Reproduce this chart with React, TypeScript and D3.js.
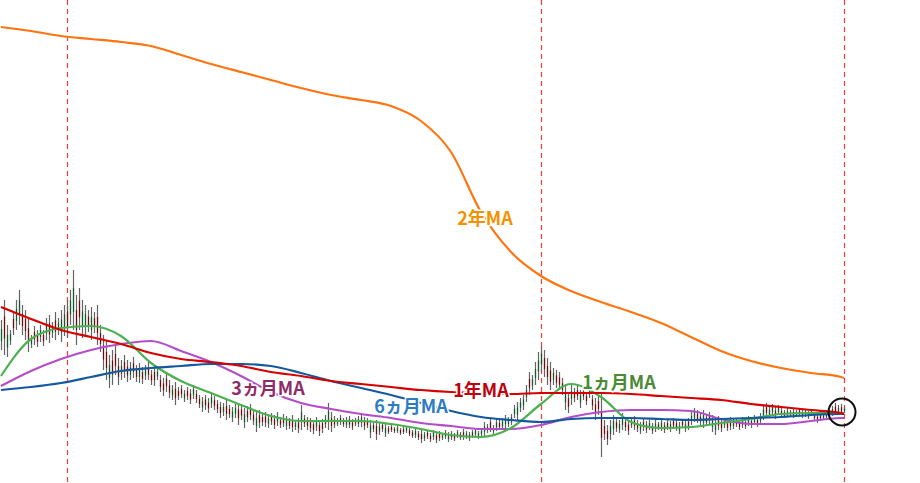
import React from "react";
import * as d3 from "d3";

// Bar data (price units), one bar per session
const high = [163,183,158,153,171,183,193,178,173,165,148,157,153,158,153,165,168,161,171,165,173,178,183,193,213,188,195,183,178,173,176,171,178,158,148,143,128,133,138,125,123,128,123,121,126,118,120,116,118,121,113,117,115,108,105,110,103,98,101,96,98,93,96,94,98,93,88,86,88,85,90,87,83,81,80,83,78,76,79,80,78,75,77,79,73,71,73,70,71,69,70,68,71,66,69,67,65,68,63,65,78,68,66,65,63,66,63,64,68,80,71,67,65,68,65,66,67,64,65,67,70,66,65,63,61,63,60,61,59,57,58,56,57,55,56,57,55,53,55,52,53,51,53,50,53,51,52,50,53,51,52,50,53,51,54,52,51,53,55,52,55,61,59,65,58,64,63,65,68,66,69,78,81,85,88,98,111,108,121,131,137,133,125,121,115,113,111,105,98,91,98,95,97,93,95,91,97,88,85,88,90,63,58,63,68,65,63,70,65,63,65,67,63,61,65,62,63,60,63,61,64,61,63,62,65,63,61,64,62,65,71,75,73,70,73,69,71,68,65,67,64,65,63,66,64,65,63,66,64,67,65,68,66,70,78,80,77,79,76,78,75,73,75,73,74,73,75,73,74,72,73,70,69,71,70,72,73,77,80,78,79,76];
const low = [133,128,126,138,148,153,158,148,143,131,135,138,136,141,137,143,140,145,143,148,141,147,145,158,153,138,153,145,148,151,143,150,138,131,113,103,95,98,108,98,103,105,101,103,105,101,100,99,103,103,98,97,103,91,87,91,85,83,78,83,85,81,83,79,84,80,75,71,73,70,75,73,70,65,67,63,65,61,65,58,63,55,61,63,58,51,55,57,56,55,58,54,57,55,56,53,54,51,53,50,53,56,53,51,49,52,47,50,55,53,51,55,57,58,56,55,55,53,57,56,56,53,55,45,51,43,48,51,46,49,51,50,50,48,49,50,47,45,45,43,40,42,44,41,43,40,42,43,44,41,43,42,45,43,43,44,42,45,46,44,46,47,50,51,49,52,53,53,55,56,58,65,63,71,73,81,88,93,98,103,111,106,98,93,98,95,93,88,73,70,78,81,83,75,83,78,85,73,63,68,26,43,38,43,48,51,50,53,52,48,55,53,51,49,52,50,53,49,51,53,52,50,53,51,54,52,49,55,51,53,58,61,60,58,55,57,59,51,48,53,51,55,52,53,54,56,53,55,54,57,55,58,56,59,63,66,65,67,64,68,65,65,66,67,65,66,67,65,66,64,67,63,60,62,63,64,65,67,68,69,68,70];
const direction =
  "uduuduuddd" + "uddudududu" + "uuduudduud" + "uddddduddd" + "udduddudud" +
  "dduddddudd" + "dudduddudd" + "udddudduud" + "dudddudddu" + "ddudduddud" +
  "uddddudduu" + "ddudduddud" + "udduddudud" + "ddudduddud" + "dudduddudu" +
  "dduddudduu" + "uuuduuduuu" + "uuuuuuduuu" + "udddudddud" + "uddudduddd" +
  "ddduuduudd" + "udduddudud" + "udduddudud" + "uuddudduud" + "dudduddudu" +
  "duduuduudu" + "ddudduddud" + "dddduuuudu" + "du";

// Moving averages sampled every 10 sessions
const maIdx = [0,10,20,30,40,50,60,70,80,90,100,110,120,130,140,150,160,170,180,190,200,210,220,230,240,250,260,270,280,281];
const ma2y = [456,452,447,444,441,437,428,419,411,403,395,388,383,377,362,331,271,231,207,192,181,171,160,146,132,122,115,110,106,105];
const ma1y = [176,164,153,146,139,130,124,121,117,111,107,102,99,96,93,91,90,89,90,90,90,89,87,85,83,79,76,73,70,69];
const ma6m = [93,96,100,106,112,115,117,119,119,117,110,102,95,88,80,72,66,63,61,64,65,65,64,63,64,65,66,68,69,69];
const ma3m = [97,112,124,133,139,142,132,121,107,91,80,74,69,65,60,57,54,54,58,66,71,73,73,72,64,59,59,62,65,65];
const ma1m = [107,144,155,157,147,120,102,90,78,67,62,62,62,59,54,48,46,55,79,99,86,61,55,56,60,64,69,70,70,70];

const markerIdx = [22, 180, 281];

const series = [
  { name: "2年MA", values: ma2y, color: "#ff7410", text: "#f39200", lx: 485, ly: 225 },
  { name: "3ヵ月MA", values: ma3m, color: "#b44ec8", text: "#8e2c68", lx: 268, ly: 395 },
  { name: "1ヵ月MA", values: ma1m, color: "#4cb050", text: "#4a8a34", lx: 619, ly: 389 },
  { name: "6ヵ月MA", values: ma6m, color: "#1458a0", text: "#2d7cc2", lx: 411, ly: 413 },
  { name: "1年MA", values: ma1y, color: "#d60000", text: "#c0000c", lx: 481, ly: 397 },
];

const W = 920;
const H = 483;

export default function App() {
  const N = high.length;
  const x = d3.scaleLinear().domain([0, N - 1]).range([1, 844]);
  const y = d3.scaleLinear().domain([0, 483]).range([H, 0]);
  const line = (vals: number[]) =>
    d3
      .line<number>()
      .x((_, i) => x(maIdx[i]))
      .y((d) => y(d))
      .curve(d3.curveMonotoneX)(vals) as string;

  return (
    <svg
      width={W}
      height={H}
      style={{ position: "absolute", left: 0, top: 0, background: "#fff" }}
    >
      {markerIdx.map((m) => (
        <line
          key={m}
          x1={Math.round(x(m)) + 0.5}
          x2={Math.round(x(m)) + 0.5}
          y1={0}
          y2={H}
          stroke="#f0402e"
          strokeWidth={1.2}
          strokeDasharray="5,4"
        />
      ))}
      <g>
        {high.map((h, i) => {
          const l = low[i];
          const xi = Math.round(x(i)) + 0.5;
          const bTop = h - (h - l) * 0.3;
          const bBot = l + (h - l) * 0.3;
          return (
            <g key={i}>
              <line x1={xi} x2={xi} y1={y(h)} y2={y(l)} stroke="#646464" strokeWidth={1.2} />
              <line
                x1={xi}
                x2={xi}
                y1={y(bTop)}
                y2={y(bBot)}
                stroke={direction[i] === "u" ? "#0f5a2a" : "#6a0c0c"}
                strokeWidth={1.2}
              />
            </g>
          );
        })}
      </g>
      {series.map((s) => (
        <path key={s.name} d={line(s.values)} fill="none" stroke={s.color} strokeWidth={2.2} />
      ))}
      <circle
        cx={x(N - 1) - 2}
        cy={y(71)}
        r={13.5}
        fill="none"
        stroke="#111"
        strokeWidth={2}
      />
      {series.map((s) => (
        <text
          key={s.name + "t"}
          x={s.lx}
          y={s.ly}
          textAnchor="middle"
          fontFamily="'Noto Sans CJK JP', 'Noto Sans', sans-serif"
          fontWeight={700}
          fontSize={18}
          fill={s.text}
          stroke="#fff"
          strokeWidth={3}
          paintOrder="stroke"
          strokeLinejoin="round"
        >
          {s.name}
        </text>
      ))}
    </svg>
  );
}
